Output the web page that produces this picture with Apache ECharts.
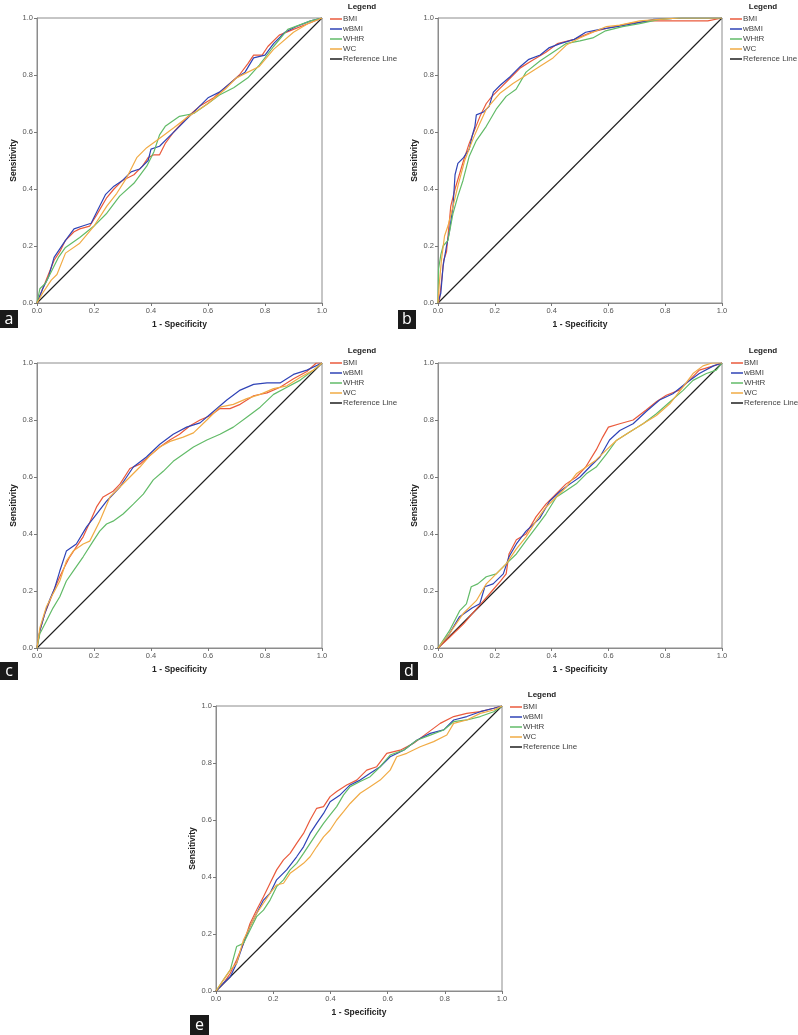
<!DOCTYPE html>
<html><head><meta charset="utf-8">
<script src="https://cdn.jsdelivr.net/npm/echarts@6/dist/echarts.min.js"></script>
<style>html,body{margin:0;padding:0;background:#fff}#c{width:798px;height:1035px}</style>
</head><body><div id="c"></div>
<script>
// ---------- DATA (1 - specificity, sensitivity) ----------
const seriesNames = ['BMI', 'wBMI', 'WHtR', 'WC'];
const refName = 'Reference Line';
const refLine = [[0, 0], [1, 1]];
const panelLetters = ['a', 'b', 'c', 'd', 'e'];
const xTitle = '1 - Specificity', yTitle = 'Sensitivity', legendTitle = 'Legend';

const a_BMI = [[0,0],[0.02,0.05],[0.04,0.1],[0.06,0.15],[0.08,0.18],[0.1,0.22],[0.13,0.25],[0.15,0.26],[0.185,0.27],[0.21,0.31],[0.245,0.37],[0.27,0.4],[0.3,0.43],[0.34,0.45],[0.37,0.48],[0.39,0.51],[0.41,0.52],[0.43,0.52],[0.45,0.56],[0.48,0.6],[0.525,0.65],[0.57,0.69],[0.62,0.72],[0.665,0.76],[0.71,0.8],[0.74,0.84],[0.76,0.87],[0.79,0.87],[0.81,0.9],[0.85,0.94],[0.9,0.96],[0.95,0.98],[1,1]];
const a_wBMI = [[0,0],[0.02,0.05],[0.04,0.09],[0.06,0.16],[0.08,0.19],[0.1,0.22],[0.13,0.26],[0.16,0.27],[0.19,0.28],[0.21,0.32],[0.24,0.38],[0.27,0.41],[0.3,0.43],[0.33,0.46],[0.36,0.47],[0.39,0.5],[0.4,0.54],[0.43,0.55],[0.46,0.58],[0.5,0.62],[0.54,0.66],[0.6,0.72],[0.64,0.74],[0.7,0.79],[0.73,0.81],[0.76,0.86],[0.8,0.87],[0.83,0.91],[0.87,0.95],[0.91,0.97],[0.96,0.99],[1,1]];
const a_WHtR = [[0,0],[0.01,0.05],[0.03,0.07],[0.05,0.11],[0.075,0.16],[0.1,0.195],[0.15,0.23],[0.2,0.27],[0.245,0.315],[0.29,0.375],[0.34,0.42],[0.385,0.48],[0.41,0.53],[0.43,0.59],[0.45,0.62],[0.5,0.655],[0.55,0.665],[0.6,0.7],[0.64,0.73],[0.69,0.755],[0.74,0.79],[0.78,0.835],[0.83,0.9],[0.88,0.96],[0.92,0.975],[0.96,0.99],[1,1]];
const a_WC = [[0,0],[0.02,0.035],[0.05,0.08],[0.07,0.1],[0.1,0.175],[0.15,0.21],[0.2,0.27],[0.245,0.34],[0.28,0.385],[0.315,0.44],[0.35,0.51],[0.385,0.545],[0.42,0.57],[0.48,0.615],[0.525,0.65],[0.6,0.7],[0.66,0.75],[0.7,0.79],[0.74,0.81],[0.78,0.83],[0.83,0.89],[0.9,0.95],[0.95,0.98],[1,1]];

const b_BMI = [[0,0],[0.005,0.01],[0.015,0.1],[0.02,0.15],[0.03,0.18],[0.045,0.34],[0.06,0.4],[0.075,0.45],[0.09,0.5],[0.11,0.56],[0.13,0.61],[0.15,0.66],[0.17,0.7],[0.19,0.725],[0.22,0.755],[0.25,0.785],[0.29,0.825],[0.33,0.85],[0.38,0.88],[0.42,0.91],[0.48,0.925],[0.54,0.95],[0.6,0.965],[0.67,0.98],[0.75,0.99],[0.85,0.99],[0.95,0.99],[1,1]];
const b_wBMI = [[0,0],[0.01,0.035],[0.018,0.13],[0.03,0.2],[0.04,0.25],[0.053,0.34],[0.06,0.45],[0.07,0.49],[0.09,0.51],[0.11,0.54],[0.12,0.585],[0.13,0.62],[0.135,0.66],[0.16,0.67],[0.18,0.69],[0.195,0.74],[0.22,0.765],[0.255,0.795],[0.29,0.83],[0.32,0.855],[0.36,0.87],[0.39,0.895],[0.43,0.91],[0.48,0.925],[0.52,0.95],[0.57,0.96],[0.63,0.97],[0.69,0.98],[0.76,0.995],[0.86,1],[1,1]];
const b_WHtR = [[0,0],[0.002,0.12],[0.01,0.17],[0.018,0.2],[0.035,0.22],[0.053,0.315],[0.07,0.375],[0.088,0.43],[0.11,0.515],[0.135,0.57],[0.17,0.62],[0.205,0.68],[0.24,0.725],[0.275,0.75],[0.31,0.81],[0.36,0.85],[0.405,0.88],[0.45,0.91],[0.5,0.92],[0.545,0.93],[0.59,0.955],[0.65,0.97],[0.71,0.98],[0.78,0.995],[0.85,1],[1,1]];
const b_WC = [[0,0],[0.004,0.06],[0.012,0.15],[0.023,0.235],[0.035,0.27],[0.053,0.34],[0.07,0.41],[0.094,0.5],[0.123,0.575],[0.147,0.63],[0.17,0.68],[0.217,0.735],[0.264,0.77],[0.311,0.8],[0.358,0.83],[0.405,0.86],[0.452,0.905],[0.499,0.93],[0.546,0.95],[0.593,0.97],[0.64,0.975],[0.71,0.99],[0.78,0.995],[0.85,1],[1,1]];

const c_BMI = [[0,0],[0.01,0.06],[0.027,0.12],[0.045,0.165],[0.062,0.21],[0.08,0.25],[0.097,0.285],[0.115,0.32],[0.138,0.355],[0.162,0.39],[0.185,0.44],[0.209,0.495],[0.232,0.53],[0.267,0.55],[0.291,0.575],[0.326,0.63],[0.361,0.645],[0.396,0.675],[0.431,0.705],[0.466,0.73],[0.5,0.75],[0.537,0.78],[0.572,0.8],[0.607,0.815],[0.642,0.84],[0.677,0.84],[0.713,0.855],[0.76,0.885],[0.807,0.895],[0.853,0.915],[0.9,0.945],[0.947,0.97],[0.98,1],[1,1]];
const c_wBMI = [[0,0],[0.01,0.06],[0.027,0.12],[0.045,0.17],[0.062,0.21],[0.08,0.27],[0.103,0.34],[0.138,0.365],[0.174,0.425],[0.209,0.47],[0.244,0.515],[0.291,0.565],[0.338,0.635],[0.384,0.67],[0.431,0.715],[0.478,0.75],[0.525,0.775],[0.572,0.79],[0.619,0.83],[0.666,0.87],[0.713,0.905],[0.76,0.925],[0.807,0.93],[0.853,0.93],[0.9,0.96],[0.947,0.975],[1,1]];
const c_WHtR = [[0,0],[0.01,0.05],[0.033,0.095],[0.056,0.14],[0.08,0.18],[0.103,0.235],[0.127,0.27],[0.162,0.32],[0.197,0.375],[0.22,0.41],[0.244,0.435],[0.267,0.445],[0.302,0.47],[0.338,0.505],[0.373,0.54],[0.408,0.59],[0.443,0.62],[0.478,0.655],[0.513,0.68],[0.549,0.705],[0.596,0.73],[0.642,0.75],[0.689,0.775],[0.736,0.81],[0.783,0.845],[0.83,0.89],[0.877,0.915],[0.924,0.94],[0.97,0.975],[1,1]];
const c_WC = [[0,0],[0.01,0.07],[0.033,0.145],[0.056,0.19],[0.08,0.235],[0.103,0.305],[0.127,0.34],[0.162,0.365],[0.185,0.375],[0.22,0.445],[0.256,0.53],[0.291,0.565],[0.326,0.6],[0.361,0.635],[0.396,0.675],[0.431,0.705],[0.467,0.725],[0.513,0.74],[0.549,0.755],[0.596,0.8],[0.642,0.845],[0.689,0.855],[0.736,0.875],[0.783,0.89],[0.83,0.91],[0.877,0.92],[0.924,0.95],[0.97,0.975],[1,1]];

const d_BMI = [[0,0],[0.04,0.037],[0.09,0.085],[0.12,0.12],[0.16,0.165],[0.19,0.2],[0.22,0.235],[0.24,0.26],[0.25,0.33],[0.276,0.38],[0.31,0.4],[0.345,0.46],[0.38,0.505],[0.415,0.54],[0.45,0.575],[0.487,0.6],[0.52,0.635],[0.557,0.695],[0.58,0.74],[0.6,0.775],[0.64,0.787],[0.687,0.8],[0.733,0.835],[0.77,0.865],[0.804,0.887],[0.85,0.905],[0.886,0.94],[0.92,0.975],[0.97,0.99],[1,1]];
const d_wBMI = [[0,0],[0.04,0.05],[0.076,0.11],[0.12,0.14],[0.147,0.155],[0.165,0.215],[0.194,0.225],[0.23,0.26],[0.25,0.32],[0.276,0.365],[0.31,0.41],[0.358,0.455],[0.393,0.515],[0.43,0.55],[0.464,0.575],[0.5,0.6],[0.534,0.635],[0.57,0.67],[0.604,0.73],[0.64,0.763],[0.687,0.787],[0.733,0.83],[0.78,0.87],[0.827,0.892],[0.874,0.93],[0.92,0.963],[0.97,0.99],[1,1]];
const d_WHtR = [[0,0],[0.04,0.06],[0.076,0.13],[0.1,0.155],[0.117,0.215],[0.14,0.225],[0.17,0.25],[0.205,0.26],[0.24,0.295],[0.276,0.33],[0.31,0.377],[0.346,0.424],[0.38,0.47],[0.417,0.53],[0.452,0.553],[0.487,0.576],[0.522,0.611],[0.557,0.635],[0.593,0.68],[0.628,0.728],[0.675,0.758],[0.722,0.787],[0.769,0.822],[0.816,0.863],[0.863,0.904],[0.898,0.939],[0.945,0.963],[0.98,0.975],[1,1]];
const d_WC = [[0,0],[0.04,0.05],[0.088,0.12],[0.135,0.166],[0.17,0.225],[0.205,0.26],[0.24,0.295],[0.276,0.348],[0.31,0.39],[0.346,0.447],[0.38,0.494],[0.417,0.53],[0.452,0.565],[0.487,0.611],[0.522,0.635],[0.557,0.66],[0.593,0.695],[0.628,0.728],[0.675,0.758],[0.722,0.787],[0.769,0.816],[0.816,0.857],[0.863,0.916],[0.898,0.963],[0.933,0.99],[0.965,1],[1,1]];

const e_BMI = [[0,0],[0.026,0.027],[0.05,0.062],[0.072,0.109],[0.096,0.167],[0.119,0.237],[0.142,0.284],[0.166,0.331],[0.189,0.378],[0.212,0.425],[0.236,0.46],[0.259,0.483],[0.282,0.518],[0.306,0.553],[0.329,0.6],[0.352,0.641],[0.376,0.647],[0.399,0.682],[0.422,0.7],[0.457,0.723],[0.492,0.74],[0.527,0.775],[0.562,0.787],[0.597,0.834],[0.644,0.845],[0.691,0.869],[0.737,0.904],[0.784,0.939],[0.831,0.963],[0.877,0.974],[0.924,0.98],[0.971,0.992],[1,1]];
const e_wBMI = [[0,0],[0.026,0.027],[0.05,0.05],[0.072,0.097],[0.096,0.167],[0.119,0.226],[0.142,0.272],[0.166,0.319],[0.189,0.343],[0.212,0.39],[0.247,0.425],[0.282,0.471],[0.306,0.506],[0.329,0.553],[0.352,0.588],[0.376,0.623],[0.399,0.664],[0.434,0.688],[0.469,0.723],[0.504,0.74],[0.539,0.764],[0.574,0.787],[0.609,0.822],[0.656,0.845],[0.702,0.88],[0.749,0.904],[0.796,0.916],[0.831,0.951],[0.877,0.963],[0.924,0.98],[0.971,0.992],[1,1]];
const e_WHtR = [[0,0],[0.026,0.039],[0.05,0.074],[0.072,0.156],[0.096,0.167],[0.119,0.214],[0.142,0.261],[0.166,0.284],[0.189,0.319],[0.212,0.366],[0.236,0.39],[0.259,0.425],[0.282,0.448],[0.306,0.483],[0.329,0.518],[0.352,0.553],[0.376,0.588],[0.399,0.618],[0.422,0.647],[0.446,0.688],[0.469,0.717],[0.504,0.735],[0.539,0.752],[0.574,0.787],[0.609,0.828],[0.656,0.845],[0.702,0.88],[0.749,0.898],[0.796,0.916],[0.831,0.945],[0.877,0.951],[0.924,0.963],[0.971,0.98],[1,1]];
const e_WC = [[0,0],[0.026,0.039],[0.05,0.074],[0.072,0.097],[0.096,0.179],[0.119,0.226],[0.142,0.272],[0.166,0.308],[0.189,0.343],[0.212,0.372],[0.236,0.378],[0.259,0.413],[0.282,0.43],[0.306,0.448],[0.329,0.471],[0.352,0.506],[0.376,0.541],[0.399,0.565],[0.422,0.6],[0.446,0.629],[0.469,0.658],[0.504,0.694],[0.539,0.717],[0.574,0.74],[0.609,0.775],[0.632,0.822],[0.667,0.834],[0.714,0.857],[0.761,0.875],[0.807,0.898],[0.831,0.939],[0.877,0.951],[0.924,0.974],[0.971,0.986],[1,1]];

const panelData = [
  [a_BMI, a_wBMI, a_WHtR, a_WC],
  [b_BMI, b_wBMI, b_WHtR, b_WC],
  [c_BMI, c_wBMI, c_WHtR, c_WC],
  [d_BMI, d_wBMI, d_WHtR, d_WC],
  [e_BMI, e_wBMI, e_WHtR, e_WC]
];

// ---------- STYLE / LAYOUT ----------
const colors = ['#ea5a3c', '#2f43b6', '#62bb68', '#f1ab45'];
const refColor = '#1e1e1e';
const font = '"Liberation Sans", Arial, sans-serif';
const layout = [
  {L: 37,  T: 18,  W: 285, H: 285, legX: 330, legY: 19,  titleX: 362, titleY: 7,   box: [0, 310, 18, 18]},
  {L: 438, T: 18,  W: 284, H: 285, legX: 730, legY: 19,  titleX: 763, titleY: 7,   box: [398, 310, 18, 19]},
  {L: 37,  T: 363, W: 285, H: 285, legX: 330, legY: 363, titleX: 362, titleY: 351, box: [0, 662, 18, 18]},
  {L: 438, T: 363, W: 284, H: 285, legX: 731, legY: 363, titleX: 763, titleY: 351, box: [400, 662, 18, 18]},
  {L: 216, T: 706, W: 286, H: 285, legX: 510, legY: 707, titleX: 542, titleY: 695, box: [190, 1015, 19, 20]}
];

const grid = [], xAxis = [], yAxis = [], series = [], graphic = [];
layout.forEach((p, i) => {
  grid.push({left: p.L, top: p.T, width: p.W, height: p.H, show: true, borderColor: '#8c8c8c', borderWidth: 1, backgroundColor: 'transparent'});
  const axisCommon = {
    gridIndex: i, type: 'value', min: 0, max: 1, interval: 0.2,
    axisLine: {show: true, lineStyle: {color: '#8c8c8c', width: 1}},
    axisTick: {show: true, length: 3, lineStyle: {color: '#777'}},
    splitLine: {show: false},
    axisLabel: {fontSize: 7.5, color: '#555', fontFamily: font, margin: 4, formatter: v => v.toFixed(1)},
    nameLocation: 'middle',
    nameTextStyle: {fontSize: 8.5, fontWeight: 'bold', color: '#222', fontFamily: font}
  };
  xAxis.push(Object.assign({}, axisCommon, {name: xTitle, nameGap: 17}));
  yAxis.push(Object.assign({}, axisCommon, {name: yTitle, nameGap: 19}));
  seriesNames.forEach((nm, k) => {
    series.push({
      type: 'line', name: nm, xAxisIndex: i, yAxisIndex: i, data: panelData[i][k],
      symbol: 'none', lineStyle: {color: colors[k], width: 1.2}, itemStyle: {color: colors[k]},
      animation: false, silent: true, z: 3 + k
    });
  });
  series.push({
    type: 'line', name: refName, xAxisIndex: i, yAxisIndex: i, data: refLine,
    symbol: 'none', lineStyle: {color: refColor, width: 1.1}, itemStyle: {color: refColor},
    animation: false, silent: true, z: 2
  });
  // legend (drawn as graphic, absolute coordinates)
  const names = seriesNames.concat([refName]);
  const cols = colors.concat([refColor]);
  graphic.push({
    type: 'text', x: p.titleX, y: p.titleY, silent: true,
    style: {text: legendTitle, font: 'bold 8px ' + font, fill: '#222', textAlign: 'center', textVerticalAlign: 'middle'}
  });
  names.forEach((nm, k) => {
    const y = p.legY + k * 10;
    graphic.push({type: 'line', x: 0, y: 0, silent: true, shape: {x1: p.legX, y1: y, x2: p.legX + 12, y2: y}, style: {stroke: cols[k], lineWidth: 1.5}});
    graphic.push({type: 'text', x: p.legX + 13, y: y, silent: true, style: {text: nm, font: '8px ' + font, fill: '#444', textAlign: 'left', textVerticalAlign: 'middle'}});
  });
  // panel letter box
  graphic.push({type: 'rect', x: p.box[0], y: p.box[1], silent: true, shape: {x: 0, y: 0, width: p.box[2], height: p.box[3]}, style: {fill: '#1a1a1a'}});
  graphic.push({type: 'text', x: p.box[0] + p.box[2] / 2, y: p.box[1] + p.box[3] / 2, silent: true, style: {text: panelLetters[i], fill: '#fff', font: '16px "Open Sans", sans-serif', textAlign: 'center', textVerticalAlign: 'middle'}});
});

const chart = echarts.init(document.getElementById('c'), null, {renderer: 'canvas'});
chart.setOption({animation: false, backgroundColor: '#fff', grid, xAxis, yAxis, series, graphic});
</script></body></html>
